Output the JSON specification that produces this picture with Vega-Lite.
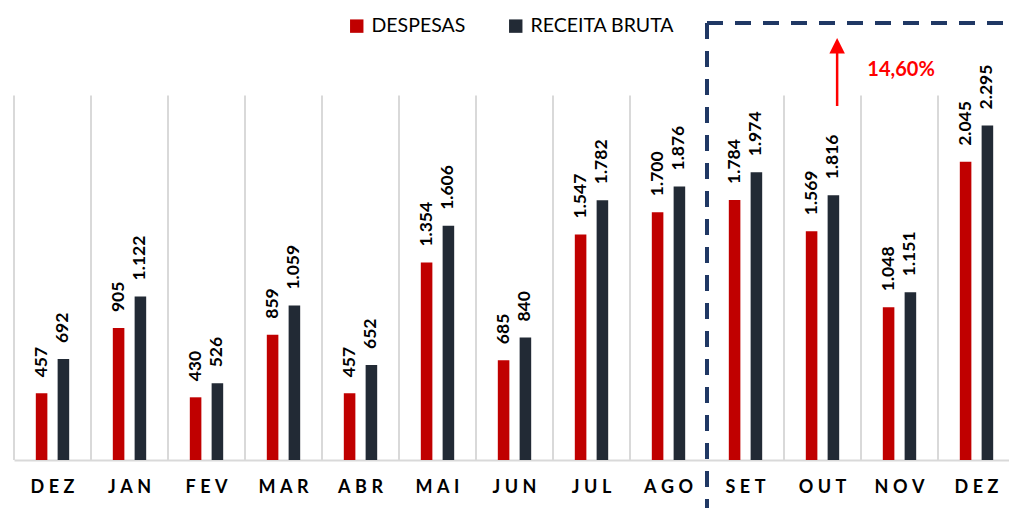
{
  "$schema": "https://vega.github.io/schema/vega-lite/v6.json",
  "width": 995,
  "height": 440,
  "autosize": {"type": "none"},
  "padding": {"left": 14, "top": 20, "right": 0, "bottom": 48},
  "background": "white",
  "config": {
    "view": {"stroke": null},
    "font": "Lato",
    "locale": {"number": {"decimal": ",", "thousands": ".", "grouping": [3], "currency": ["R$ ", ""]}}
  },
  "datasets": {
    "vendas": [
      {"id": "DEZ-22", "serie": "DESPESAS", "valor": 457},
      {"id": "DEZ-22", "serie": "RECEITA BRUTA", "valor": 692},
      {"id": "JAN-23", "serie": "DESPESAS", "valor": 905},
      {"id": "JAN-23", "serie": "RECEITA BRUTA", "valor": 1122},
      {"id": "FEV-23", "serie": "DESPESAS", "valor": 430},
      {"id": "FEV-23", "serie": "RECEITA BRUTA", "valor": 526},
      {"id": "MAR-23", "serie": "DESPESAS", "valor": 859},
      {"id": "MAR-23", "serie": "RECEITA BRUTA", "valor": 1059},
      {"id": "ABR-23", "serie": "DESPESAS", "valor": 457},
      {"id": "ABR-23", "serie": "RECEITA BRUTA", "valor": 652},
      {"id": "MAI-23", "serie": "DESPESAS", "valor": 1354},
      {"id": "MAI-23", "serie": "RECEITA BRUTA", "valor": 1606},
      {"id": "JUN-23", "serie": "DESPESAS", "valor": 685},
      {"id": "JUN-23", "serie": "RECEITA BRUTA", "valor": 840},
      {"id": "JUL-23", "serie": "DESPESAS", "valor": 1547},
      {"id": "JUL-23", "serie": "RECEITA BRUTA", "valor": 1782},
      {"id": "AGO-23", "serie": "DESPESAS", "valor": 1700},
      {"id": "AGO-23", "serie": "RECEITA BRUTA", "valor": 1876},
      {"id": "SET-23", "serie": "DESPESAS", "valor": 1784},
      {"id": "SET-23", "serie": "RECEITA BRUTA", "valor": 1974},
      {"id": "OUT-23", "serie": "DESPESAS", "valor": 1569},
      {"id": "OUT-23", "serie": "RECEITA BRUTA", "valor": 1816},
      {"id": "NOV-23", "serie": "DESPESAS", "valor": 1048},
      {"id": "NOV-23", "serie": "RECEITA BRUTA", "valor": 1151},
      {"id": "DEZ-23", "serie": "DESPESAS", "valor": 2045},
      {"id": "DEZ-23", "serie": "RECEITA BRUTA", "valor": 2295}
    ],
    "grade": [
      {"pos": 0}, {"pos": 1}, {"pos": 2}, {"pos": 3}, {"pos": 4}, {"pos": 5}, {"pos": 6},
      {"pos": 7}, {"pos": 8}, {"pos": 10}, {"pos": 11}, {"pos": 12}, {"pos": 13}
    ],
    "nota": [{"rotulo": "14,60%"}]
  },
  "layer": [
    {
      "data": {"name": "grade"},
      "mark": {"type": "rule", "color": "#D9D9D9", "strokeWidth": 2},
      "encoding": {
        "x": {"field": "pos", "type": "quantitative", "scale": {"domain": [0, 13], "range": [0, 1001], "nice": false, "zero": false}, "axis": null},
        "y": {"datum": 0, "type": "quantitative", "scale": {"domain": [0, 3018], "nice": false}, "axis": null},
        "y2": {"datum": 2500}
      }
    },
    {
      "data": {"name": "vendas"},
      "encoding": {
        "x": {
          "field": "id", "type": "nominal", "sort": null,
          "scale": {"range": [0, 1001], "paddingInner": 0, "paddingOuter": 0},
          "axis": {
            "title": null, "labelAngle": 0, "ticks": false,
            "labelExpr": "join(split(slice(datum.value,0,3),''),'\u2005')",
            "labelFont": "Lato", "labelFontWeight": "bold", "labelFontSize": 18, "labelColor": "#000000",
            "labelPadding": 18, "domainColor": "#D9D9D9", "domainWidth": 2, "grid": false
          }
        },
        "xOffset": {"field": "serie", "type": "nominal", "sort": ["DESPESAS", "RECEITA BRUTA"], "scale": {"paddingInner": 0.47, "paddingOuter": 1.2}},
        "y": {"field": "valor", "type": "quantitative", "scale": {"domain": [0, 3018], "nice": false}, "axis": null}
      },
      "layer": [
        {
          "mark": {"type": "bar"},
          "encoding": {
            "color": {
              "field": "serie", "type": "nominal",
              "scale": {"domain": ["DESPESAS", "RECEITA BRUTA"], "range": ["#C00000", "#222A35"]},
              "legend": {
                "title": null, "orient": "none", "legendX": 333, "legendY": -4, "direction": "horizontal",
                "symbolType": "square", "symbolSize": 180, "symbolStrokeWidth": 0,
                "labelFont": "Lato", "labelFontSize": 19.5, "labelColor": "#000000",
                "columnPadding": 40, "labelOffset": 5
              }
            }
          }
        },
        {
          "mark": {"type": "text", "angle": 270, "align": "left", "baseline": "middle", "dx": 16, "font": "Lato", "fontWeight": "bold", "fontSize": 17.5, "color": "#000000"},
          "encoding": {"text": {"field": "valor", "type": "quantitative", "format": ","}}
        }
      ]
    },
    {
      "data": {"name": "nota"},
      "mark": {"type": "rule", "color": "#203864", "strokeWidth": 4, "strokeDash": [16, 12]},
      "encoding": {
        "x": {"datum": 9, "type": "quantitative", "scale": {"domain": [0, 13], "range": [0, 1001], "nice": false, "zero": false}, "axis": null},
        "y": {"datum": 2997},
        "y2": {"datum": -330}
      }
    },
    {
      "data": {"name": "nota"},
      "mark": {"type": "rule", "color": "#203864", "strokeWidth": 4, "strokeDash": [16, 12]},
      "encoding": {
        "x": {"datum": 9, "type": "quantitative", "scale": {"domain": [0, 13], "range": [0, 1001], "nice": false, "zero": false}, "axis": null},
        "x2": {"datum": 13.2},
        "y": {"datum": 2997}
      }
    },
    {
      "data": {"name": "nota"},
      "mark": {"type": "rule", "color": "#FF0000", "strokeWidth": 2.5},
      "encoding": {
        "x": {"datum": 10.69, "type": "quantitative", "scale": {"domain": [0, 13], "range": [0, 1001], "nice": false, "zero": false}, "axis": null},
        "y": {"datum": 2428},
        "y2": {"datum": 2800}
      }
    },
    {
      "data": {"name": "nota"},
      "mark": {"type": "point", "shape": "M-1,1L1,1L0,-1Z", "filled": true, "color": "#FF0000", "size": 240, "opacity": 1},
      "encoding": {
        "x": {"datum": 10.69, "type": "quantitative", "scale": {"domain": [0, 13], "range": [0, 1001], "nice": false, "zero": false}, "axis": null},
        "y": {"datum": 2841}
      }
    },
    {
      "data": {"name": "nota"},
      "mark": {"type": "text", "color": "#FF0000", "font": "Lato", "fontWeight": "bold", "fontSize": 20, "align": "center", "baseline": "middle"},
      "encoding": {
        "x": {"datum": 11.52, "type": "quantitative", "scale": {"domain": [0, 13], "range": [0, 1001], "nice": false, "zero": false}, "axis": null},
        "y": {"datum": 2678},
        "text": {"field": "rotulo", "type": "nominal"}
      }
    }
  ],
  "resolve": {"scale": {"x": "independent"}}
}
